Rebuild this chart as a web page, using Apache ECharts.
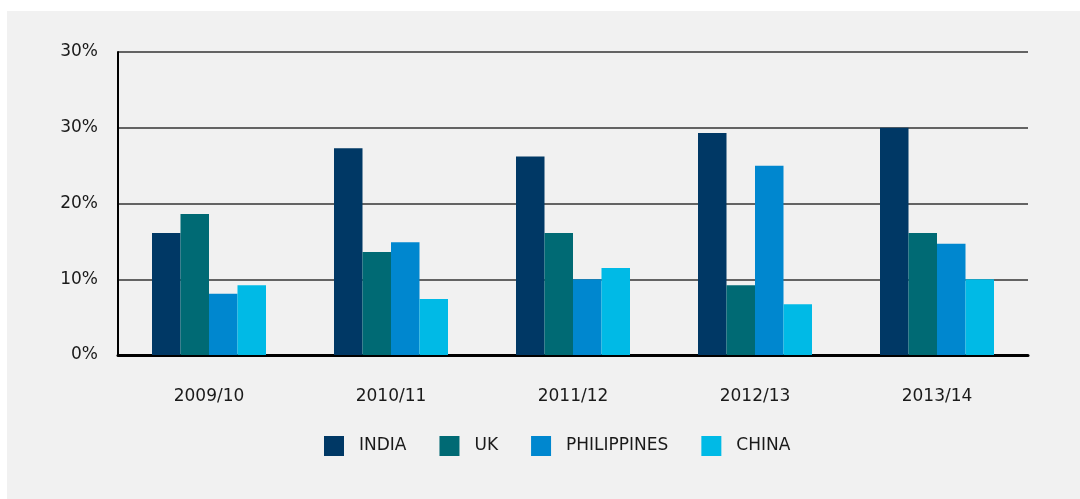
<!DOCTYPE html>
<html>
<head>
<meta charset="utf-8">
<script src="https://cdn.jsdelivr.net/npm/echarts@6/dist/echarts.min.js"></script>
<style>
html,body{margin:0;padding:0;background:#fff;}
#c{width:1080px;height:499px;}
</style>
</head>
<body>
<div id="c"></div>
<script>
var categories = ['2009/10','2010/11','2011/12','2012/13','2013/14'];
var seriesNames = ['INDIA','UK','PHILIPPINES','CHINA'];
var india = [16.1, 27.3, 26.2, 29.3, 30.0];
var uk = [18.6, 13.6, 16.1, 9.2, 16.1];
var philippines = [8.1, 14.9, 10.0, 25.0, 14.7];
var china = [9.2, 7.4, 11.5, 6.7, 10.0];
var yTickLabels = ['0%','10%','20%','30%','30%'];
var colors = ['#003865','#006a74','#0087cf','#00bae6'];

var font = 'DejaVu Sans';
var chart = echarts.init(document.getElementById('c'), null, {renderer:'canvas'});
var dataSets = [india, uk, philippines, china];
var series = seriesNames.map(function(n, i){
  return {
    name: n, type: 'bar', data: dataSets[i], barWidth: 28.5, barGap: '0%',
    itemStyle: {color: colors[i]}, emphasis: {disabled: true}
  };
});
chart.setOption({
  animation: false,
  backgroundColor: '#ffffff',
  graphic: [{type:'rect', z:-10, silent:true, shape:{x:7,y:11,width:1073,height:488}, style:{fill:'#f1f1f1'}}],
  color: colors,
  grid: {left:118, right:52, top:52, bottom:144, containLabel:false},
  legend: {
    left: 324, top: 436, padding: 0, itemWidth: 20, itemHeight: 20, itemGap: 33,
    icon: 'rect',
    textStyle: {fontFamily: font, fontSize: 17, color: '#1a1a1a', padding:[0,0,0,10]},
    data: seriesNames
  },
  xAxis: {
    type: 'category', data: categories,
    axisLine: {show: true, lineStyle: {color:'#000', width: 3}},
    axisTick: {show: false},
    axisLabel: {fontFamily: font, fontSize: 17, color: '#1a1a1a', margin: 33}
  },
  yAxis: {
    type: 'value', min: 0, max: 40, interval: 10,
    axisLine: {show: true, lineStyle: {color:'#000', width: 2}},
    axisTick: {show: false},
    splitLine: {show: true, lineStyle: {color:'#333', width: 1.5}},
    axisLabel: {
      fontFamily: font, fontSize: 17, color: '#1a1a1a', margin: 20,
      formatter: function(v){ return yTickLabels[Math.round(v/10)]; }
    }
  },
  series: series
});
</script>
</body>
</html>
